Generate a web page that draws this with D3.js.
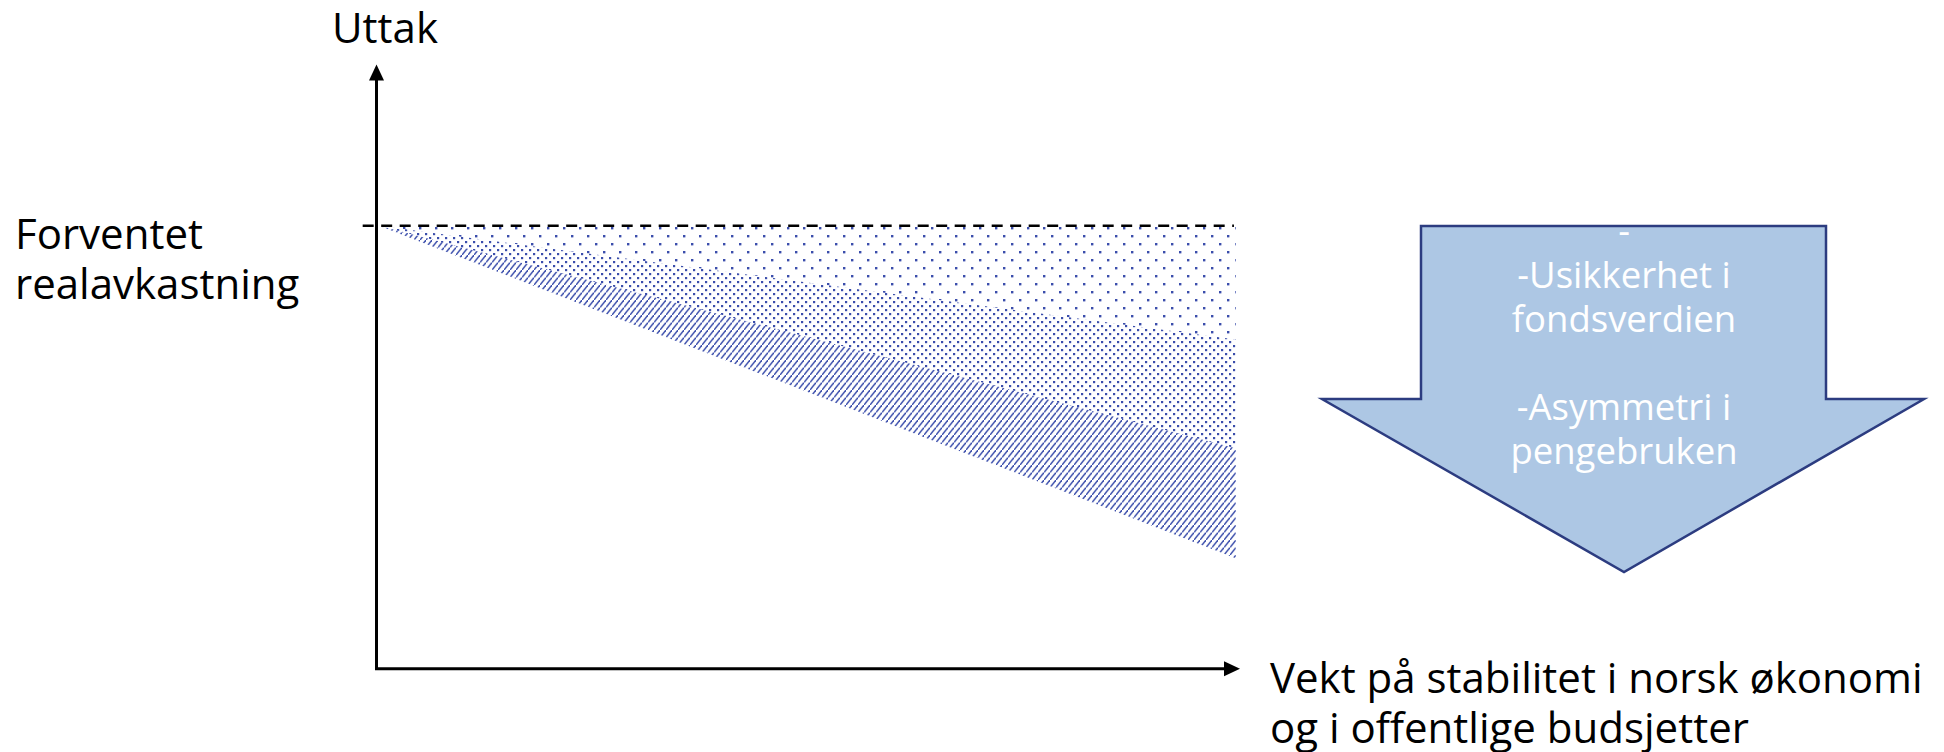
<!DOCTYPE html>
<html>
<head>
<meta charset="utf-8">
<script src="https://cdn.jsdelivr.net/npm/d3@7"></script>
<style>
  html, body { margin: 0; padding: 0; background: #fff; }
  svg { display: block; font-family: "Open Sans", "Noto Sans", sans-serif; }
</style>
</head>
<body>
<div id="chart"></div>
<script>
// values in abstract units (0-100 on both axes)
const returnLevel = 73.3;            // "Forventet realavkastning"
const fanStartX = 0.3;
const fanEndX = 99.5;
const bandNames = ['sparse', 'dense', 'hatch'];
const bandUpper = [73.3, 54.5, 36.5]; // at right edge
const bandLower = [54.5, 36.5, 18.3];
const yAxisLabel = 'Uttak';
const levelLabel = ['Forventet', 'realavkastning'];
const xAxisLabel = ['Vekt på stabilitet i norsk økonomi', 'og i offentlige budsjetter'];
const arrowLines = ['-', '-Usikkerhet i', 'fondsverdien', '', '-Asymmetri i', 'pengebruken'];

const width = 1944, height = 752;
const dotColor = '#3a4dab';

const svg = d3.select('#chart').append('svg')
  .attr('width', width)
  .attr('height', height);

const x = d3.scaleLinear().domain([0, 100]).range([376.5, 1240]);
const y = d3.scaleLinear().domain([0, 100]).range([668.7, 64.5]);

// fill patterns
const defs = svg.append('defs');

const pSparse = defs.append('pattern')
  .attr('id', 'sparse').attr('patternUnits', 'userSpaceOnUse')
  .attr('width', 16).attr('height', 16);
pSparse.append('rect').attr('x', 3).attr('y', 3).attr('width', 2.4).attr('height', 2.4).attr('fill', dotColor);
pSparse.append('rect').attr('x', 11).attr('y', 11).attr('width', 2.4).attr('height', 2.4).attr('fill', dotColor);

const pDense = defs.append('pattern')
  .attr('id', 'dense').attr('patternUnits', 'userSpaceOnUse')
  .attr('width', 8).attr('height', 8);
pDense.append('rect').attr('x', 1).attr('y', 1).attr('width', 2.2).attr('height', 2.2).attr('fill', dotColor);
pDense.append('rect').attr('x', 5).attr('y', 5).attr('width', 2.2).attr('height', 2.2).attr('fill', dotColor);

const pHatch = defs.append('pattern')
  .attr('id', 'hatch').attr('patternUnits', 'userSpaceOnUse')
  .attr('width', 6).attr('height', 7.5);
pHatch.append('path')
  .attr('d', 'M-1.2,9 L7.2,-1.5')
  .attr('stroke', dotColor)
  .attr('stroke-width', 1.5)
  .attr('fill', 'none');

// fan bands
const bands = bandNames.map((name, i) => ({
  name,
  pts: [[fanStartX, returnLevel], [fanEndX, bandUpper[i]], [fanEndX, bandLower[i]]]
}));

svg.append('g')
  .selectAll('path')
  .data(bands)
  .enter().append('path')
  .attr('d', d => 'M' + d.pts.map(p => [x(p[0]), y(p[1])].join(',')).join('L') + 'Z')
  .attr('fill', d => `url(#${d.name})`);

// dashed level line
svg.append('line')
  .attr('x1', x(-1.6)).attr('x2', x(99.3))
  .attr('y1', y(returnLevel)).attr('y2', y(returnLevel))
  .attr('stroke', '#000')
  .attr('stroke-width', 2.5)
  .attr('stroke-dasharray', '11,7.5');

// axes with arrowheads
const axes = svg.append('g');
axes.append('line')
  .attr('x1', x(0)).attr('x2', x(0))
  .attr('y1', y(0)).attr('y2', y(100) + 12)
  .attr('stroke', '#000').attr('stroke-width', 3);
axes.append('path')
  .attr('d', `M${x(0)},${y(100)} L${x(0) - 7.5},${y(100) + 16} L${x(0) + 7.5},${y(100) + 16}Z`)
  .attr('fill', '#000');
axes.append('line')
  .attr('x1', x(0) - 1.5).attr('x2', x(100) - 12)
  .attr('y1', y(0)).attr('y2', y(0))
  .attr('stroke', '#000').attr('stroke-width', 3);
axes.append('path')
  .attr('d', `M${x(100)},${y(0)} L${x(100) - 16},${y(0) - 7.5} L${x(100) - 16},${y(0) + 7.5}Z`)
  .attr('fill', '#000');

// labels
svg.append('text')
  .attr('x', 332).attr('y', 43)
  .attr('font-size', 42)
  .attr('fill', '#000')
  .text(yAxisLabel);

svg.append('text')
  .attr('font-size', 42)
  .attr('fill', '#000')
  .selectAll('tspan')
  .data(levelLabel)
  .enter().append('tspan')
  .attr('x', 15)
  .attr('y', (d, i) => 248.5 + i * 50.5)
  .text(d => d);

svg.append('text')
  .attr('font-size', 42)
  .attr('fill', '#000')
  .selectAll('tspan')
  .data(xAxisLabel)
  .enter().append('tspan')
  .attr('x', 1270)
  .attr('y', (d, i) => 693 + i * 49.5)
  .text(d => d);

// block arrow annotation
const arrow = {left: 1421, right: 1826, top: 226, shoulder: 399, wingL: 1322, wingR: 1924, tipX: 1624, tipY: 572};
svg.append('path')
  .attr('d', `M${arrow.left},${arrow.top} L${arrow.right},${arrow.top} L${arrow.right},${arrow.shoulder}
    L${arrow.wingR},${arrow.shoulder} L${arrow.tipX},${arrow.tipY} L${arrow.wingL},${arrow.shoulder}
    L${arrow.left},${arrow.shoulder}Z`)
  .attr('fill', '#adc7e4')
  .attr('stroke', '#2c3c80')
  .attr('stroke-width', 2.5)
  .attr('stroke-linejoin', 'miter');

svg.append('text')
  .attr('text-anchor', 'middle')
  .attr('font-size', 36.5)
  .attr('fill', '#fff')
  .selectAll('tspan')
  .data(arrowLines)
  .enter().append('tspan')
  .attr('x', arrow.tipX)
  .attr('y', (d, i) => 244 + i * 44)
  .text(d => d);
</script>
</body>
</html>
